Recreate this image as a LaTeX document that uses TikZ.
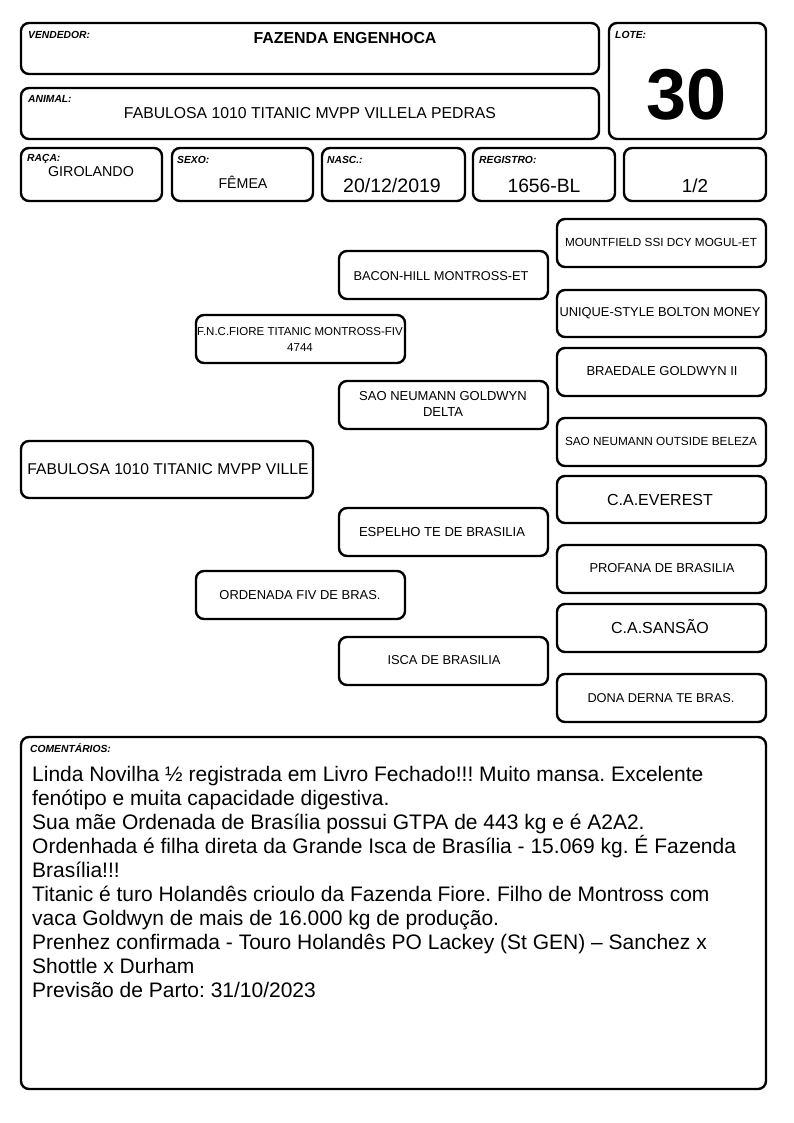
\documentclass[tikz,border=0pt]{standalone}
\usepackage{fontspec}
\usepackage{graphicx}
\setmainfont{Liberation Sans}
\frenchspacing
\newcommand\fw[2]{\resizebox{#1pt}{!}{#2}}
\begin{document}
\begin{tikzpicture}[x=1pt,y=-1pt,
  box/.style={draw=black, line width=2.4pt, rounded corners=8pt},
  lbl/.style={anchor=base west, inner sep=0pt, font=\fontsize{10.3}{12}\selectfont\bfseries\itshape},
  txt/.style={anchor=center, inner sep=0pt},
  val/.style={anchor=base, inner sep=0pt}]
\useasboundingbox (0,0) rectangle (794,1123);
\fill[white] (0,0) rectangle (794,1123);
% header boxes
\draw[box] (21,23) rectangle (599,74);
\draw[box] (609,23) rectangle (766,139);
\draw[box] (21,88) rectangle (599,139);
\node[lbl] (lvend) at (28,39) {VENDEDOR:};
\node[txt] (vend) at (345,38) {\fw{183}{\bfseries FAZENDA ENGENHOCA}};
\node[lbl] (llote) at (615,39) {LOTE:};
\node[val] (lote) at (687,120) {\fontsize{72}{80}\selectfont\bfseries 30};
\node[lbl] (lanim) at (28,103) {ANIMAL:};
\node[txt] (anim) at (310,113) {\fw{372}{FABULOSA 1010 TITANIC MVPP VILLELA PEDRAS}};
% info row
\draw[box] (21,148) rectangle (162,201);
\draw[box] (172,148) rectangle (313,201);
\draw[box] (322,148) rectangle (465,201);
\draw[box] (473,148) rectangle (615,201);
\draw[box] (624,148) rectangle (766,201);
\node[lbl] (lraca) at (27,162) {RAÇA:};
\node[lbl] (lsexo) at (177,164) {SEXO:};
\node[lbl] (lnasc) at (327,164) {NASC.:};
\node[lbl] (lreg) at (479,164) {REGISTRO:};
\node[val] (raca) at (91,177) {\fontsize{14.3}{16}\selectfont GIROLANDO};
\node[val] (sexo) at (243,189) {\fontsize{14.2}{16}\selectfont FÊMEA};
\node[val] (nasc) at (392,193) {\fontsize{19.5}{22}\selectfont 20/12/2019};
\node[val] (reg) at (544,193) {\fontsize{19.3}{22}\selectfont 1656-BL};
\node[val] (frac) at (695,193) {\fontsize{18.8}{22}\selectfont 1/2};
% pedigree
\draw[box] (21,441) rectangle (313,498);
\node[txt] (an) at (168,469) {\fw{281}{FABULOSA 1010 TITANIC MVPP VILLE}};
\draw[box] (196,315) rectangle (405,363);
\node[txt, align=center, font=\fontsize{11.5}{16}\selectfont] (sire) at (300,339) {F.N.C.FIORE TITANIC MONTROSS-FIV\\4744};
\draw[box] (196,571) rectangle (405,619);
\node[txt] (dam) at (300,595) {\fw{161}{ORDENADA FIV DE BRAS.}};
\draw[box] (339,251) rectangle (548,299);
\node[txt] (gs1) at (441,276) {\fw{175}{BACON-HILL MONTROSS-ET}};
\draw[box] (339,381) rectangle (548,429);
\node[txt, align=center, font=\fontsize{13}{16}\selectfont] (gd1) at (443,404) {SAO NEUMANN GOLDWYN\\DELTA};
\draw[box] (339,508) rectangle (548,556);
\node[txt] (gs2) at (442,532) {\fw{166}{ESPELHO TE DE BRASILIA}};
\draw[box] (339,637) rectangle (548,685);
\node[txt] (gd2) at (444,660) {\fw{113}{ISCA DE BRASILIA}};
\draw[box] (557,219) rectangle (766,267);
\node[txt] (g1) at (661,242) {\fw{192}{MOUNTFIELD SSI DCY MOGUL-ET}};
\draw[box] (557,290) rectangle (766,337);
\node[txt] (g2) at (660,313) {\fw{201}{UNIQUE-STYLE BOLTON MONEY}};
\draw[box] (557,348) rectangle (766,396);
\node[txt] (g3) at (662,371) {\fw{151}{BRAEDALE GOLDWYN II}};
\draw[box] (557,418) rectangle (766,466);
\node[txt] (g4) at (661,441) {\fw{192}{SAO NEUMANN OUTSIDE BELEZA}};
\draw[box] (557,476) rectangle (766,523);
\node[val] (g5) at (660,505) {\fontsize{16}{18}\selectfont C.A.EVEREST};
\draw[box] (557,545) rectangle (766,593);
\node[txt] (g6) at (662,568) {\fw{145}{PROFANA DE BRASILIA}};
\draw[box] (557,604) rectangle (766,652);
\node[val] (g7) at (660,633) {\fontsize{16}{18}\selectfont C.A.SANSÃO};
\draw[box] (557,674) rectangle (766,722);
\node[txt] (g8) at (661,698) {\fw{147}{DONA DERNA TE BRAS.}};
% comments
\draw[box] (21,737) rectangle (766,1089);
\node[lbl] (lcom) at (30,752) {COMENTÁRIOS:};
\node[anchor=north west, inner sep=0pt, align=left, font=\fontsize{21}{24}\selectfont] (com) at (32,766) {Linda Novilha ½ registrada em Livro Fechado!!! Muito mansa. Excelente\\
fenótipo e muita capacidade digestiva.\\
Sua mãe Ordenada de Brasília possui GTPA de 443 kg e é A2A2.\\
Ordenhada é filha direta da Grande Isca de Brasília - 15.069 kg. É Fazenda\\
Brasília!!!\\
Titanic é turo Holandês crioulo da Fazenda Fiore. Filho de Montross com\\
vaca Goldwyn de mais de 16.000 kg de produção.\\
Prenhez confirmada - Touro Holandês PO Lackey (St GEN) – Sanchez x\\
Shottle x Durham\\
Previsão de Parto: 31/10/2023};
\end{tikzpicture}
\end{document}
